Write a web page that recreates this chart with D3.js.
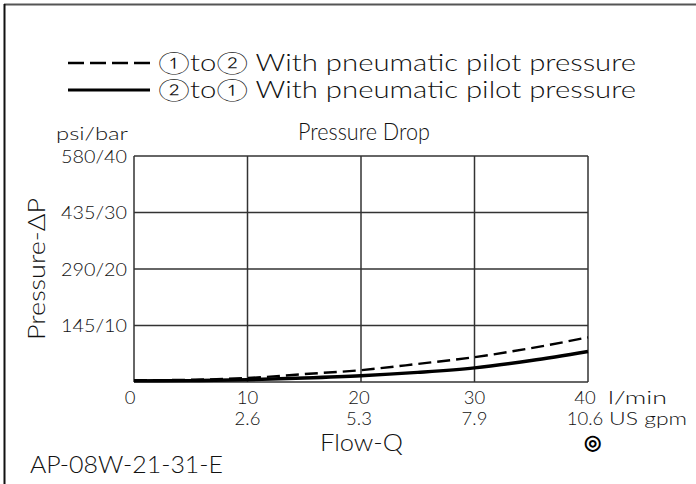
<!DOCTYPE html>
<html><head><meta charset="utf-8">
<script src="https://cdn.jsdelivr.net/npm/d3@7/dist/d3.min.js"></script>
<style>body{margin:0;background:#fff}svg{display:block}text{font-family:Lato,"Open Sans",sans-serif;font-weight:300;fill:#111}</style>
</head><body><svg id="c" width="696" height="484"></svg>
<script>
const flow = [0, 5, 10, 15, 20, 25, 30, 35, 40];
const dashedSeries = [0.3, 0.4, 0.7, 1.4, 2.1, 3.2, 4.4, 6.0, 7.9];
const solidSeries  = [0.2, 0.25, 0.4, 0.7, 1.1, 1.7, 2.5, 3.8, 5.4];
const xTicks = [0, 10, 20, 30, 40];
const xTickGpm = ["", "2.6", "5.3", "7.9", "10.6"];
const yTicks = [10, 20, 30, 40];
const yTickLabels = ["145/10", "290/20", "435/30", "580/40"];
const legendLabels = ["\u2460to\u2461 With pneumatic pilot pressure", "\u2461to\u2460 With pneumatic pilot pressure"];

const svg = d3.select("#c");
const x = d3.scaleLinear().domain([0, 40]).range([134, 588]);
const y = d3.scaleLinear().domain([0, 40]).range([382, 156]);

// frame
svg.append("line").attr("x1", 4).attr("x2", 696).attr("y1", 4.5).attr("y2", 4.5).attr("stroke", "#555").attr("stroke-width", 2);
svg.append("line").attr("x1", 4.5).attr("x2", 4.5).attr("y1", 4).attr("y2", 484).attr("stroke", "#111").attr("stroke-width", 2);

// grid
const g = svg.append("g");
g.selectAll(".vx").data(xTicks).join("line").attr("x1", d => x(d)).attr("x2", d => x(d))
  .attr("y1", y(0)).attr("y2", y(40)).attr("stroke", "#333").attr("stroke-width", 1.5);
g.selectAll(".hy").data([0].concat(yTicks)).join("line").attr("y1", d => y(d)).attr("y2", d => y(d))
  .attr("x1", x(0)).attr("x2", x(40)).attr("stroke", "#333").attr("stroke-width", 1.5);

// curves
const line = d3.line().x((d, i) => x(flow[i])).y(d => y(d)).curve(d3.curveMonotoneX);
svg.append("path").attr("d", line(solidSeries)).attr("fill", "none").attr("stroke", "#000").attr("stroke-width", 3.4);
svg.append("path").attr("d", line(dashedSeries)).attr("fill", "none").attr("stroke", "#000").attr("stroke-width", 2.4).attr("stroke-dasharray", "13,6");

const txt = (xx, yy, s, size, len, anchor) => {
  const t = svg.append("text").attr("x", xx).attr("y", yy).attr("font-size", size).attr("text-anchor", anchor || "start").text(s);
  if (len) t.attr("textLength", len).attr("lengthAdjust", "spacingAndGlyphs");
  return t;
};

// y tick labels
svg.selectAll(".yl").data(yTicks).join("text").attr("x", 127).attr("y", d => y(d) + 6.5)
  .attr("text-anchor", "end").attr("font-size", 18.5).attr("textLength", 66).attr("lengthAdjust", "spacingAndGlyphs")
  .text((d, i) => yTickLabels[i]);
txt(56, 140, "psi/bar", 18.5, 72);
svg.append("text").attr("transform", "translate(45,269) rotate(-90)").attr("text-anchor", "middle").attr("font-size", 24)
  .attr("textLength", 142).attr("lengthAdjust", "spacingAndGlyphs").text("Pressure-\u0394P");
txt(298, 140, "Pressure Drop", 23, 132);

// x tick labels
const xOff = [-4, 0, -2, 0, -3];
svg.selectAll(".xl").data(xTicks).join("text").attr("x", (d, i) => x(d) + xOff[i]).attr("y", 404)
  .attr("text-anchor", "middle").attr("font-size", 18.5).text(d => d);
svg.selectAll(".xg").data(xTicks).join("text").attr("x", (d, i) => x(d) + xOff[i]).attr("y", 425)
  .attr("text-anchor", "middle").attr("font-size", 18.5).text((d, i) => xTickGpm[i]);
txt(608, 404, "l/min", 18.5, 59);
txt(609, 425, "US gpm", 18.5, 78);
txt(320, 451, "Flow-Q", 23, 83);
txt(30, 473, "AP-08W-21-31-E", 23, 193);
txt(592, 449, "\u25CE", 20, null, "middle").style("font-weight", 700).style("fill", "#000");

// legend
const lg = svg.append("g");
legendLabels.forEach((t, i) => {
  const ly = 63 + i * 27;
  lg.append("line").attr("x1", 68).attr("x2", 150).attr("y1", ly).attr("y2", ly)
    .attr("stroke", "#000").attr("stroke-width", i === 0 ? 2.4 : 3).attr("stroke-dasharray", i === 0 ? "16,6" : null);
  lg.append("text").attr("x", 158).attr("y", ly + 8).attr("font-size", 22.5).attr("textLength", 478).attr("lengthAdjust", "spacingAndGlyphs").text(t);
});
</script></body></html>
